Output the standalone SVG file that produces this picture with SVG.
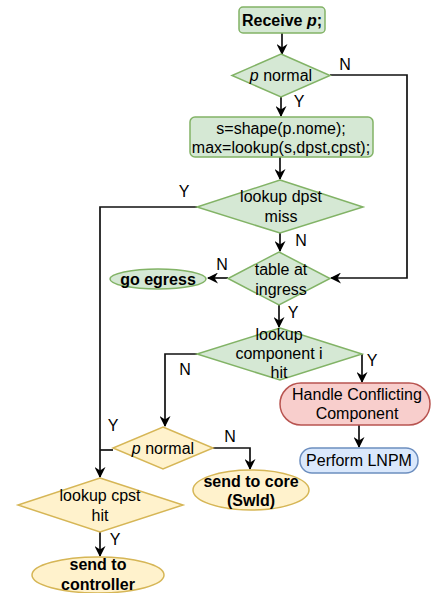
<svg xmlns="http://www.w3.org/2000/svg" width="437" height="593" viewBox="0 0 437 593">
  <defs>
    <marker id="arrow" viewBox="0 0 11 11" refX="10" refY="5.5" markerWidth="11" markerHeight="11" markerUnits="userSpaceOnUse" orient="auto">
      <path d="M0,0 L11,5.5 L0,11 L3.5,5.5 Z" fill="#000"/>
    </marker>
    <style>
      text { font-family: "Liberation Sans", Arial, Helvetica, sans-serif; font-size: 16px; fill: #000; text-anchor: middle; }
      .b { font-weight: bold; }
      .green { fill: #d5e8d4; stroke: #82b366; stroke-width: 1.5; }
      .yellow { fill: #fff2cc; stroke: #d6b656; stroke-width: 1.5; }
      .red { fill: #f8cecc; stroke: #b85450; stroke-width: 1.5; }
      .blue { fill: #dae8fc; stroke: #6c8ebf; stroke-width: 1.5; }
      .edge { fill: none; stroke: #111; stroke-width: 1.7; }
      .arr { marker-end: url(#arrow); }
    </style>
  </defs>
  <rect width="437" height="593" fill="#fff"/>

  <!-- connectors -->
  <g id="connectors">
    <path class="edge arr" d="M282,33 V54"/>
    <path class="edge arr" d="M281,97 V116"/>
    <path class="edge arr" d="M280,157 V179"/>
    <path class="edge arr" d="M330,75 H407 V278 H331"/>
    <path class="edge arr" d="M280,233 V251"/>
    <path class="edge arr" d="M228,278 H208"/>
    <path class="edge arr" d="M279,305 V327"/>
    <path class="edge arr" d="M197,207 H100 V477"/>
    <path class="edge arr" d="M197,354 H165 V426"/>
    <path class="edge arr" d="M362,354 V382"/>
    <path class="edge arr" d="M359,425 V447"/>
    <path class="edge" d="M113,450 H100"/>
    <path class="edge arr" d="M213,448 H250 V469"/>
    <path class="edge arr" d="M100,532 V556"/>
    <text x="345" y="70">N</text>
    <text x="299" y="107">Y</text>
    <text x="184" y="197">Y</text>
    <text x="301" y="246">N</text>
    <text x="222" y="270">N</text>
    <text x="293" y="318">Y</text>
    <text x="185" y="375">N</text>
    <text x="372" y="366">Y</text>
    <text x="113" y="431">Y</text>
    <text x="230" y="442">N</text>
    <text x="115" y="545">Y</text>
  </g>

  <g id="receive">
    <rect class="green" x="239" y="7" width="86" height="26" rx="4"/>
    <text class="b" x="282" y="26">Receive <tspan font-style="italic">p</tspan>;</text>
  </g>

  <g id="p-normal-1">
    <polygon class="green" points="281,54 330,75.5 281,97 232,75.5"/>
    <text x="281" y="81"><tspan font-style="italic">p</tspan> normal</text>
  </g>

  <g id="shape-lookup">
    <rect class="green" x="190" y="117" width="183" height="40" rx="5"/>
    <text x="281" y="134">s=shape(p.nome);</text>
    <text x="281" y="153">max=lookup(s,dpst,cpst);</text>
  </g>

  <g id="lookup-dpst">
    <polygon class="green" points="280,180 363,207 280,233 197,207"/>
    <text x="281" y="202">lookup dpst</text>
    <text x="281" y="222">miss</text>
  </g>

  <g id="table-ingress">
    <polygon class="green" points="279,252 330,278.5 279,305 228,278.5"/>
    <text x="281" y="275">table at</text>
    <text x="281" y="295">ingress</text>
  </g>

  <g id="go-egress">
    <ellipse class="green" cx="158" cy="279" rx="48" ry="10"/>
    <text class="b" x="158" y="285">go egress</text>
  </g>

  <g id="lookup-component">
    <polygon class="green" points="280,328 362,354 280,380 197,354"/>
    <text x="279" y="340">lookup</text>
    <text x="279" y="359">component i</text>
    <text x="279" y="378">hit</text>
  </g>

  <g id="handle-conflict">
    <rect class="red" x="280" y="383" width="150" height="42" rx="21"/>
    <text x="357" y="400">Handle Conflicting</text>
    <text x="357" y="419">Component</text>
  </g>

  <g id="perform-lnpm">
    <rect class="blue" x="300" y="448" width="118" height="25" rx="12"/>
    <text x="359" y="466">Perform LNPM</text>
  </g>

  <g id="p-normal-2">
    <polygon class="yellow" points="163,427 213,448 163,469 113,448"/>
    <text x="163" y="454"><tspan font-style="italic">p</tspan> normal</text>
  </g>

  <g id="send-core">
    <ellipse class="yellow" cx="251" cy="490" rx="58" ry="20"/>
    <text class="b" x="251" y="487">send to core</text>
    <text class="b" x="251" y="506">(Swld)</text>
  </g>

  <g id="lookup-cpst">
    <polygon class="yellow" points="100,478 183,505 100,532 18,505"/>
    <text x="100" y="501">lookup cpst</text>
    <text x="100" y="521">hit</text>
  </g>

  <g id="send-controller">
    <ellipse class="yellow" cx="98" cy="575" rx="66" ry="18"/>
    <text class="b" x="98" y="570">send to</text>
    <text class="b" x="98" y="590">controller</text>
  </g>
</svg>
